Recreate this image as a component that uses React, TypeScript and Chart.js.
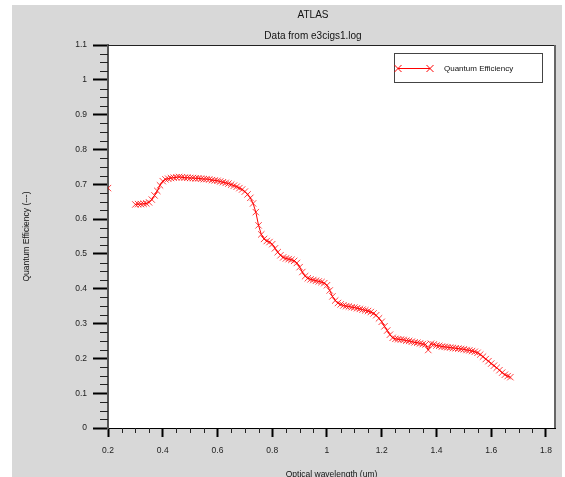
import React, { useEffect, useRef } from "react";
import { Chart, registerables } from "chart.js";

Chart.register(...registerables);

const chartTitle = "ATLAS";
const chartSubtitle = "Data from e3cigs1.log";
const xAxisTitle = "Optical wavelength (um)";
const yAxisTitle = "Quantum Efficiency (---)";
const seriesName = "Quantum Efficiency";

const xRange = [0.2, 1.833];
const yRange = [0, 1.1];
const xMajorStep = 0.2;
const xMinorStep = 0.05;
const yMajorStep = 0.1;
const yMinorStep = 0.025;

const wavelength = [
  0.2, 0.25,
  0.3, 0.31, 0.32, 0.33, 0.34, 0.35, 0.36, 0.37, 0.38, 0.39,
  0.4, 0.41, 0.42, 0.43, 0.44, 0.45, 0.46, 0.47, 0.48, 0.49,
  0.5, 0.51, 0.52, 0.53, 0.54, 0.55, 0.56, 0.57, 0.58, 0.59,
  0.6, 0.61, 0.62, 0.63, 0.64, 0.65, 0.66, 0.67, 0.68, 0.69,
  0.7, 0.71, 0.72, 0.73, 0.74, 0.75, 0.76, 0.77, 0.78, 0.79,
  0.8, 0.81, 0.82, 0.83, 0.84, 0.85, 0.86, 0.87, 0.88, 0.89,
  0.9, 0.91, 0.92, 0.93, 0.94, 0.95, 0.96, 0.97, 0.98, 0.99,
  1.0, 1.01, 1.02, 1.03, 1.04, 1.05, 1.06, 1.07, 1.08, 1.09,
  1.1, 1.11, 1.12, 1.13, 1.14, 1.15, 1.16, 1.17, 1.18, 1.19,
  1.2, 1.21, 1.22, 1.23, 1.24, 1.25, 1.26, 1.27, 1.28, 1.29,
  1.3, 1.31, 1.32, 1.33, 1.34, 1.35, 1.36, 1.37, 1.38, 1.39,
  1.4, 1.41, 1.42, 1.43, 1.44, 1.45, 1.46, 1.47, 1.48, 1.49,
  1.5, 1.51, 1.52, 1.53, 1.54, 1.55, 1.56, 1.57, 1.58, 1.59,
  1.6, 1.61, 1.62, 1.63, 1.64, 1.65, 1.66, 1.67,
];

const efficiency: (number | null)[] = [
  0.689, null,
  0.642, 0.643, 0.643, 0.644, 0.645, 0.648, 0.656, 0.668, 0.681, 0.697,
  0.709, 0.714, 0.716, 0.718, 0.719, 0.72, 0.721, 0.72, 0.719, 0.719,
  0.718, 0.718, 0.717, 0.717, 0.716, 0.715, 0.715, 0.714, 0.712, 0.711,
  0.71, 0.708, 0.706, 0.704, 0.702, 0.699, 0.696, 0.693, 0.689, 0.685,
  0.679, 0.671, 0.661, 0.645, 0.62, 0.582, 0.556, 0.543, 0.537, 0.534,
  0.528, 0.516, 0.505, 0.496, 0.49, 0.487, 0.485, 0.483, 0.48, 0.474,
  0.462, 0.448, 0.436, 0.43, 0.427, 0.425, 0.423, 0.421, 0.419, 0.416,
  0.41, 0.395, 0.378, 0.366, 0.359, 0.355, 0.352, 0.35, 0.349, 0.347,
  0.346, 0.344, 0.342, 0.34, 0.338, 0.336, 0.333, 0.329, 0.324, 0.315,
  0.305, 0.292, 0.28, 0.268, 0.259, 0.256, 0.255, 0.254, 0.253, 0.251,
  0.25, 0.248, 0.246, 0.245, 0.243, 0.241, 0.24, 0.224, 0.242, 0.24,
  0.237, 0.236, 0.234, 0.233, 0.232, 0.231, 0.23, 0.229, 0.228, 0.227,
  0.226, 0.224, 0.223, 0.221, 0.219, 0.216, 0.211, 0.205, 0.198, 0.192,
  0.185, 0.179, 0.173, 0.166, 0.159, 0.153, 0.149, 0.146,
];

const FONT = '"Liberation Sans", Arial, sans-serif';
const GRAY_BG = "#d8d8d8";
const RED = "#ff0000";

const fmt = (v: any) => String(Number(Number(v).toFixed(3)));

const decorations = {
  id: "decorations",
  beforeDraw(chart: any) {
    const { ctx, chartArea: a } = chart;
    ctx.save();
    ctx.fillStyle = "#ffffff";
    ctx.fillRect(0, 0, chart.width, chart.height);
    ctx.fillStyle = GRAY_BG;
    ctx.fillRect(12, 5, 550, 472);
    ctx.fillStyle = "#ffffff";
    ctx.fillRect(a.left, a.top, a.right - a.left, a.bottom - a.top);
    ctx.restore();
  },
  afterDraw(chart: any) {
    const { ctx, chartArea: a, scales } = chart;
    const xs = scales.x;
    const ys = scales.y;
    ctx.save();
    // frame top and right
    ctx.strokeStyle = "#222";
    ctx.lineWidth = 1;
    ctx.beginPath();
    ctx.moveTo(a.left, a.top + 0.5);
    ctx.lineTo(a.right, a.top + 0.5);
    ctx.stroke();
    ctx.strokeStyle = "#666";
    ctx.lineWidth = 2;
    ctx.beginPath();
    ctx.moveTo(a.right, a.top);
    ctx.lineTo(a.right, a.bottom);
    ctx.stroke();

    // minor ticks
    ctx.strokeStyle = "#222";
    ctx.lineWidth = 1;
    ctx.beginPath();
    const nY = Math.round((yRange[1] - yRange[0]) / yMinorStep);
    for (let i = 0; i <= nY; i++) {
      if (i % Math.round(yMajorStep / yMinorStep) === 0) continue;
      const py = Math.round(ys.getPixelForValue(yRange[0] + i * yMinorStep)) + 0.5;
      ctx.moveTo(a.left - 8, py);
      ctx.lineTo(a.left, py);
    }
    const nX = Math.floor((1.8 - xRange[0]) / xMinorStep + 1e-6);
    for (let i = 0; i <= nX; i++) {
      if (i % Math.round(xMajorStep / xMinorStep) === 0) continue;
      const px = Math.round(xs.getPixelForValue(xRange[0] + i * xMinorStep)) + 0.5;
      ctx.moveTo(px, a.bottom);
      ctx.lineTo(px, a.bottom + 5);
    }
    ctx.stroke();

    // titles
    ctx.fillStyle = "#111";
    ctx.textAlign = "center";
    ctx.textBaseline = "middle";
    ctx.font = `10px ${FONT}`;
    ctx.fillText(chartTitle, 313, 15);
    ctx.fillText(chartSubtitle, 313, 36);

    ctx.font = `8.5px ${FONT}`;
    ctx.fillText(xAxisTitle, (a.left + a.right) / 2, 475);
    ctx.save();
    ctx.translate(27, (a.top + a.bottom) / 2);
    ctx.rotate(-Math.PI / 2);
    ctx.fillText(yAxisTitle, 0, 0);
    ctx.restore();

    // legend
    const lx = 394.5, ly = 53.5, lw = 148, lh = 29;
    ctx.fillStyle = "#ffffff";
    ctx.fillRect(lx, ly, lw, lh);
    ctx.strokeStyle = "#444";
    ctx.lineWidth = 1;
    ctx.strokeRect(lx, ly, lw, lh);
    const cy = 68.5;
    ctx.strokeStyle = RED;
    ctx.beginPath();
    ctx.moveTo(398, cy);
    ctx.lineTo(430, cy);
    for (const mx of [398, 430]) {
      ctx.moveTo(mx - 3.5, cy - 3.5);
      ctx.lineTo(mx + 3.5, cy + 3.5);
      ctx.moveTo(mx - 3.5, cy + 3.5);
      ctx.lineTo(mx + 3.5, cy - 3.5);
    }
    ctx.stroke();
    ctx.fillStyle = "#111";
    ctx.textAlign = "left";
    ctx.font = `8px ${FONT}`;
    ctx.fillText(seriesName, 444, cy);
    ctx.restore();
  },
};

export default function App() {
  const ref = useRef<HTMLCanvasElement | null>(null);
  useEffect(() => {
    if (!ref.current) return;
    const points = wavelength.map((x, i) => ({ x, y: efficiency[i] }));
    const chart = new Chart(ref.current, {
      type: "line",
      data: {
        datasets: [
          {
            label: seriesName,
            data: points as any,
            borderColor: RED,
            borderWidth: 1,
            pointStyle: "crossRot",
            pointRadius: 4.5,
            pointBorderColor: "rgba(255,0,0,0.75)",
            pointBorderWidth: 1,
            pointBackgroundColor: RED,
            spanGaps: false,
            tension: 0,
          },
        ],
      },
      options: {
        responsive: false,
        animation: false,
        devicePixelRatio: 1,
        layout: { padding: { top: 45, right: 10, left: 0, bottom: 0 } },
        plugins: {
          legend: { display: false },
          title: { display: false },
          tooltip: { enabled: false },
        },
        scales: {
          x: {
            type: "linear",
            min: xRange[0],
            max: xRange[1],
            afterFit: (s: any) => {
              s.height = 49;
            },
            ticks: {
              stepSize: xMajorStep,
              includeBounds: false,
              autoSkip: false,
              maxRotation: 0,
              color: "#222",
              font: { family: FONT, size: 8.5 },
              padding: 9,
              callback: fmt,
            },
            grid: {
              drawOnChartArea: false,
              drawTicks: true,
              tickLength: 9,
              tickWidth: 2,
              tickColor: "#000",
            },
            border: { display: true, color: "#000", width: 1 },
          },
          y: {
            type: "linear",
            min: yRange[0],
            max: yRange[1],
            afterFit: (s: any) => {
              s.width = 108;
            },
            ticks: {
              stepSize: yMajorStep,
              autoSkip: false,
              color: "#222",
              font: { family: FONT, size: 8.5 },
              padding: 6,
              callback: fmt,
            },
            grid: {
              drawOnChartArea: false,
              drawTicks: true,
              tickLength: 15,
              tickWidth: 2,
              tickColor: "#000",
            },
            border: { display: true, color: "#555", width: 2 },
          },
        },
      },
      plugins: [decorations],
    });
    return () => chart.destroy();
  }, []);
  return (
    <canvas
      ref={ref}
      width={565}
      height={477}
      style={{ position: "fixed", left: 0, top: 0 }}
    />
  );
}
